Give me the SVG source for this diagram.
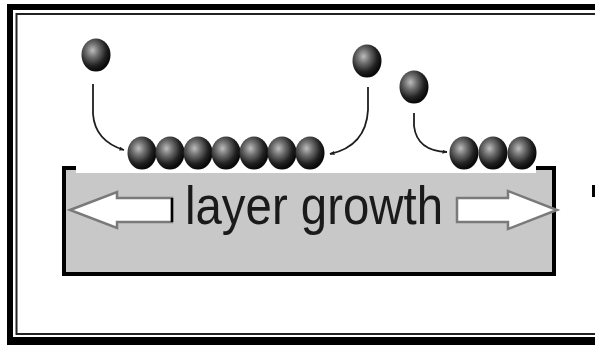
<svg xmlns="http://www.w3.org/2000/svg" width="595" height="345" viewBox="0 0 595 345">
  <style>
    .conn { fill: none; stroke: #1e1e1e; stroke-width: 1.8; }
    .block-arrow { fill: #ffffff; stroke: #7a7a7a; stroke-width: 2.5; stroke-linejoin: miter; }
    .label { font-family: "Liberation Sans", Arial, sans-serif; font-size: 53px; fill: #1a1a1a; }
  </style>
  <defs>
    <radialGradient id="ball" cx="0.38" cy="0.36" r="0.62">
      <stop offset="0" stop-color="#bdbdbd"/>
      <stop offset="0.35" stop-color="#6e6e6e"/>
      <stop offset="0.75" stop-color="#222222"/>
      <stop offset="1" stop-color="#0a0a0a"/>
    </radialGradient>
    <ellipse id="atom" cx="0" cy="0" rx="14.5" ry="16.5" fill="url(#ball)"/>
    <marker id="tip" viewBox="0 0 10 10" refX="9" refY="5" markerWidth="5" markerHeight="5" orient="auto" markerUnits="userSpaceOnUse">
      <path d="M0,1 L10,5 L0,9 Z" fill="#1e1e1e"/>
    </marker>
  </defs>

  <!-- page background and double frame -->
  <rect x="0" y="0" width="595" height="345" fill="#ffffff"/>
  <path d="M7,4 H600 V350 H7 Z M13,10 V337 H600 V10 Z" fill="#000000" fill-rule="evenodd"/>
  <rect x="16.5" y="14" width="600" height="320" fill="none" stroke="#222222" stroke-width="2"/>
  <rect x="592" y="185" width="3" height="12" fill="#000000"/>

  <!-- substrate -->
  <g id="substrate">
    <rect x="64" y="168" width="490" height="106" fill="#c8c8c8" stroke="#000000" stroke-width="4"/>
    <rect x="76" y="164" width="460" height="9" fill="#ffffff"/>
    <polygon class="block-arrow" points="70,210 117,192 117,198 172,198 172,222 117,222 117,228"/>
    <line x1="172" y1="198" x2="172" y2="222" stroke="#000000" stroke-width="2.5"/>
    <polygon class="block-arrow" points="457,198 508,198 508,191 557,210 508,229 508,222 457,222"/>
    <text class="label" x="185" y="224" textLength="258" lengthAdjust="spacingAndGlyphs">layer growth</text>
  </g>

  <!-- connectors: atom paths onto the surface -->
  <g id="connectors">
    <path class="conn" d="M93,84 L93,114 Q95,141 124,150" marker-end="url(#tip)"/>
    <path class="conn" d="M368,87 L368,110 Q366,146 330,154" marker-end="url(#tip)"/>
    <path class="conn" d="M414,113 L414,126 Q417,151 447,152" marker-end="url(#tip)"/>
  </g>

  <!-- incoming atoms -->
  <g id="atom-a"><use href="#atom" x="96" y="55"/></g>
  <g id="atom-b"><use href="#atom" x="367" y="61"/></g>
  <g id="atom-c"><use href="#atom" x="414" y="87"/></g>

  <!-- adsorbed row, left island -->
  <g id="island-left">
    <use href="#atom" x="142" y="153"/>
    <use href="#atom" x="170" y="153"/>
    <use href="#atom" x="198" y="153"/>
    <use href="#atom" x="226" y="153"/>
    <use href="#atom" x="254" y="153"/>
    <use href="#atom" x="282" y="153"/>
    <use href="#atom" x="310" y="153"/>
  </g>

  <!-- adsorbed row, right island -->
  <g id="island-right">
    <use href="#atom" x="464" y="153"/>
    <use href="#atom" x="493" y="153"/>
    <use href="#atom" x="522" y="153"/>
  </g>
</svg>
